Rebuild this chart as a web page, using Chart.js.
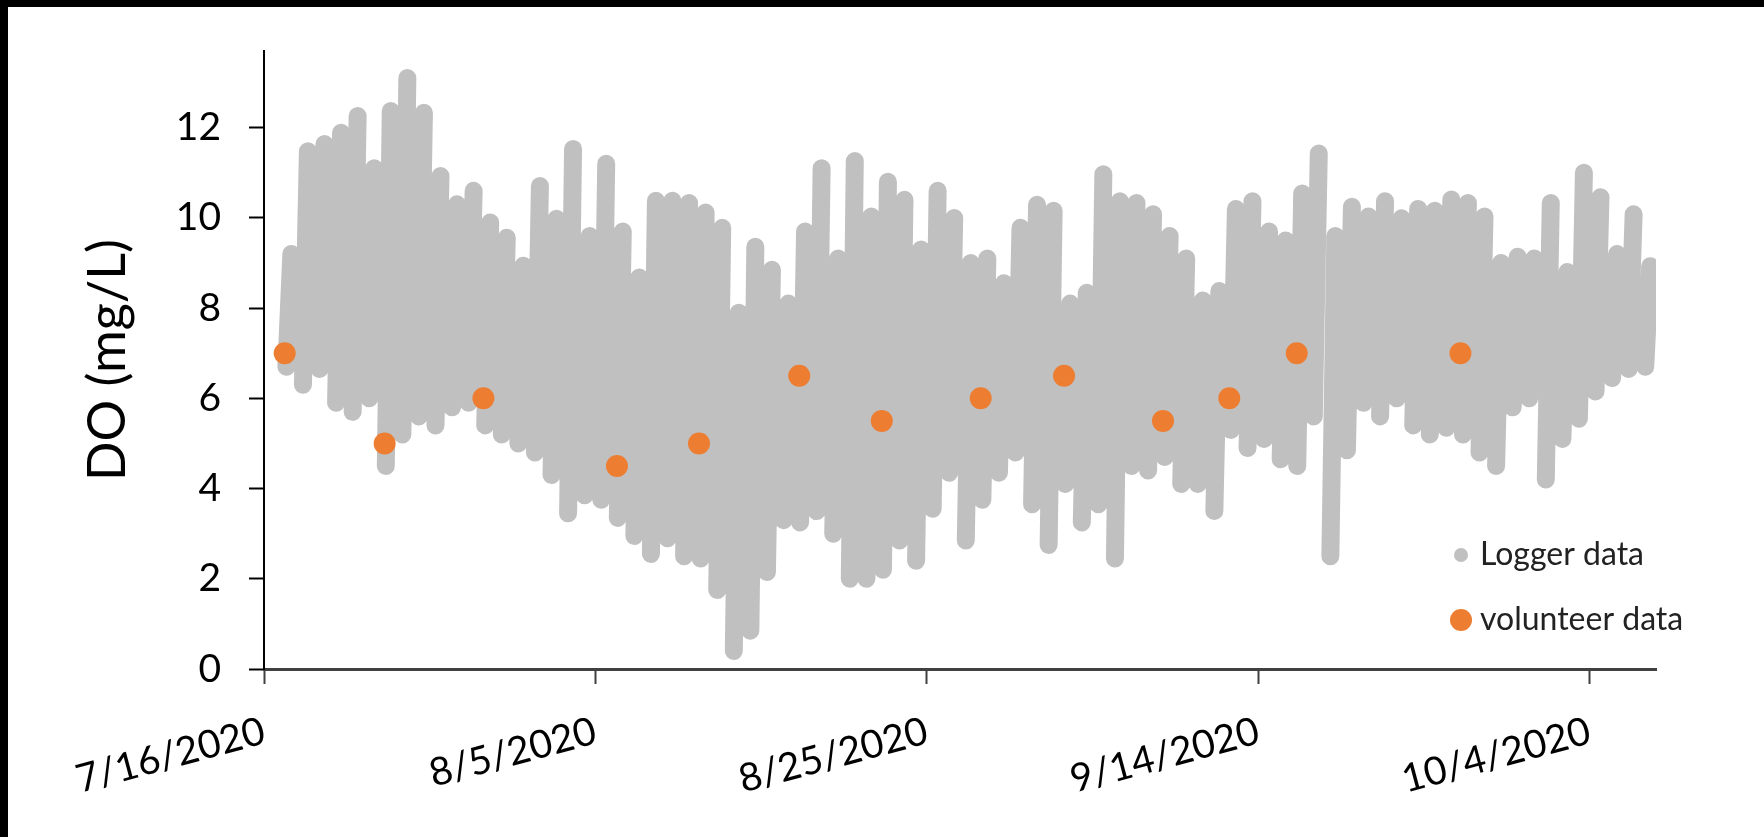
<!DOCTYPE html>
<html>
<head>
<meta charset="utf-8">
<script src="https://cdn.jsdelivr.net/npm/chart.js@4.4.1/dist/chart.umd.min.js"></script>
<style>
  html, body { margin: 0; padding: 0; background: #fff; width: 1764px; height: 837px; overflow: hidden; }
  #topbar { position: absolute; left: 0; top: 0; width: 1764px; height: 7px; background: #000; z-index: 2; }
  #leftbar { position: absolute; left: 0; top: 0; width: 8px; height: 837px; background: #000; z-index: 2; }
  #wrap { position: absolute; left: 8px; top: 11px; width: 1756px; height: 826px; background: #fff; }
  canvas { display: block; }
</style>
</head>
<body>
<div id="topbar"></div>
<div id="leftbar"></div>
<div id="wrap"><canvas id="c" width="1756" height="826"></canvas></div>
<script>
// ---- data (days counted from 7/16/2020) ----
const xTickLabels = ['7/16/2020', '8/5/2020', '8/25/2020', '9/14/2020', '10/4/2020'];
const yTickStep = 2;

// Logger: one daily low (early morning) and one daily high (afternoon), days 1..83
const loggerFirstDay = 1;
const loggerMin = [
  6.7, 6.3, 6.65, 5.9, 5.7, 6.0, 4.5, 5.2, 5.6, 5.4,
  5.8, 5.9, 5.4, 5.2, 5.0, 4.8, 4.3, 3.45, 3.85, 3.75,
  3.35, 2.95, 2.55, 2.9, 2.5, 2.45, 1.75, 0.4, 0.85, 2.15,
  3.3, 3.25, 3.5, 3.0, 2.0, 2.0, 2.2, 2.85, 2.4, 3.55,
  4.35, 2.85, 3.75, 4.35, 4.8, 3.65, 2.75, 4.1, 3.25, 3.65,
  2.45, 4.5, 4.4, 4.7, 4.1, 4.1, 3.5, 5.3, 4.9, 5.1,
  4.65, 4.5, 5.6, 2.5, 4.85, 5.9, 5.6, 6.0, 5.4, 5.2,
  5.35, 5.2, 4.8, 4.5, 5.8, 6.0, 4.2, 5.1, 5.55, 6.15,
  6.45, 6.65, 6.7
];
const loggerMax = [
  9.2, 11.48, 11.64, 11.89, 12.26, 11.1, 12.37, 13.1, 12.33, 10.93,
  10.3, 10.6, 9.9, 9.56, 8.94, 10.71, 9.98, 11.53, 9.6, 11.2,
  9.7, 8.68, 10.38, 10.38, 10.33, 10.12, 9.78, 7.9, 9.36, 8.85,
  8.1, 9.7, 11.1, 9.1, 11.26, 10.03, 10.8, 10.4, 9.3, 10.6,
  10.0, 9.0, 9.1, 8.55, 9.78, 10.29, 10.16, 8.1, 8.34, 10.97,
  10.37, 10.33, 10.08, 9.6, 9.1, 8.17, 8.38, 10.2, 10.37, 9.7,
  9.5, 10.54, 11.43, 9.6, 10.25, 10.03, 10.37, 9.99, 10.2, 10.16,
  10.41, 10.33, 10.03, 9.0, 9.14, 9.1, 10.33, 8.8, 11.0, 10.46,
  9.2, 10.08, 8.93
];
const lowTimeOfDay = 0.35;
const highTimeOfDay = 0.65;

// Volunteer samples
const volunteerDay = [1.25, 7.28, 13.24, 21.3, 26.25, 32.3, 37.28, 43.25, 48.28, 54.25, 58.25, 62.32, 72.2];
const volunteerDO  = [7.0, 5.0, 6.0, 4.5, 5.0, 6.5, 5.5, 6.0, 6.5, 5.5, 6.0, 7.0, 7.0];

// ---- build datasets: each day is one vertical run of readings from its low to its high ----
const loggerPoints = [];
loggerMin.forEach((lo, i) => {
  const d = loggerFirstDay + i;
  loggerPoints.push({ x: d + lowTimeOfDay, y: lo });
  loggerPoints.push({ x: d + highTimeOfDay, y: loggerMax[i] });
  loggerPoints.push({ x: d + highTimeOfDay, y: null });
});
const volunteerPoints = volunteerDay.map((d, i) => ({ x: d, y: volunteerDO[i] }));

const GRAY = '#C0C0C0';
const ORANGE = '#ED7D31';
const FONT = 'Lato, "Open Sans", sans-serif';

function markerCanvas(r, color) {
  const c = document.createElement('canvas');
  c.width = 2 * r + 2; c.height = 2 * r + 2;
  const g = c.getContext('2d');
  g.fillStyle = color;
  g.beginPath(); g.arc(r + 1, r + 1, r, 0, Math.PI * 2); g.fill();
  return c;
}
const legendMarkers = [markerCanvas(7, GRAY), markerCanvas(11, ORANGE)];

const moveLegend = {
  id: 'moveLegend',
  afterLayout(chart) {
    const lg = chart.legend;
    if (!lg) return;
    lg.left = 1417; lg.top = 495; lg.right = 1756; lg.bottom = 826;
    lg.width = lg.right - lg.left; lg.height = lg.bottom - lg.top;
  }
};

new Chart(document.getElementById('c'), {
  type: 'scatter',
  data: {
    datasets: [
      {
        label: 'Logger data',
        data: loggerPoints,
        showLine: true,
        spanGaps: false,
        borderColor: GRAY,
        backgroundColor: GRAY,
        borderWidth: 18,
        borderCapStyle: 'round',
        borderJoinStyle: 'round',
        pointRadius: 0,
        tension: 0,
        order: 2
      },
      {
        label: 'volunteer data',
        data: volunteerPoints,
        showLine: false,
        backgroundColor: ORANGE,
        borderColor: ORANGE,
        borderWidth: 0,
        pointRadius: 11,
        order: 1
      }
    ]
  },
  options: {
    responsive: false,
    animation: false,
    devicePixelRatio: 1,
    layout: { padding: { top: 40, right: 108, left: 0, bottom: 0 } },
    plugins: {
      tooltip: { enabled: false },
      legend: {
        display: true,
        position: 'chartArea',
        align: 'start',
        labels: {
          usePointStyle: true,
          boxWidth: 6,
          boxHeight: 6,
          padding: 33,
          color: '#222',
          font: { family: FONT, size: 32 },
          generateLabels(chart) {
            const items = Chart.defaults.plugins.legend.labels.generateLabels(chart);
            items.sort((a, b) => a.datasetIndex - b.datasetIndex);
            items.forEach(it => { it.pointStyle = legendMarkers[it.datasetIndex]; });
            return items;
          }
        }
      }
    },
    scales: {
      x: {
        type: 'linear',
        position: 'bottom',
        min: 0,
        max: 84,
        afterFit(scale) { scale.height = 168; scale.paddingLeft = 0; scale.paddingRight = 0; },
        grid: { drawOnChartArea: false, drawTicks: true, tickLength: 15, tickColor: '#404040', tickWidth: 2 },
        border: { display: true, color: '#404040', width: 3 },
        ticks: {
          stepSize: 20,
          includeBounds: false,
          autoSkip: false,
          minRotation: 15,
          maxRotation: 15,
          padding: 24,
          color: '#000',
          font: { family: FONT, size: 39 },
          callback: (v, i) => xTickLabels[i]
        }
      },
      y: {
        position: 'left',
        min: 0,
        max: 13.7,
        afterFit(scale) { scale.width = 256; scale.paddingTop = 0; scale.paddingBottom = 0; },
        grid: { drawOnChartArea: false, drawTicks: true, tickLength: 15, tickColor: '#000', tickWidth: 2 },
        border: { display: true, color: '#000', width: 2 },
        ticks: {
          stepSize: yTickStep,
          includeBounds: false,
          padding: 28,
          color: '#000',
          font: { family: FONT, size: 39 }
        },
        title: {
          display: true,
          text: 'DO (mg/L)',
          color: '#000',
          font: { family: FONT, size: 52 },
          padding: { top: 69, bottom: 0 }
        }
      }
    }
  },
  plugins: [moveLegend]
});
</script>
</body>
</html>
